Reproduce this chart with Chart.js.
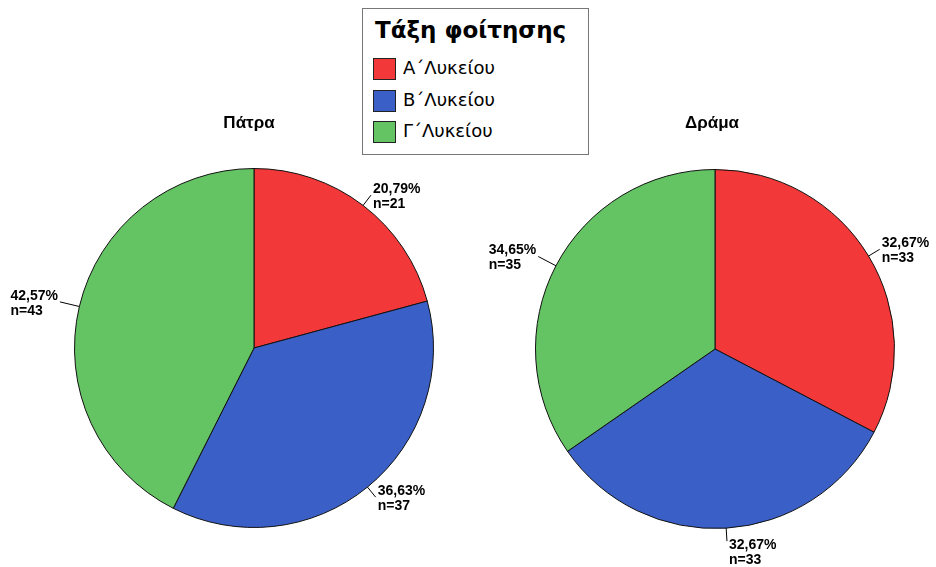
<!DOCTYPE html>
<html>
<head>
<meta charset="utf-8">
<script src="https://cdn.jsdelivr.net/npm/chart.js@4"></script>
<style>
  body { margin: 0; background: #fff; }
  #wrap { position: relative; width: 936px; height: 567px; overflow: hidden; font-family: "DejaVu Sans", sans-serif; }
  .box { position: absolute; top: 0; width: 468px; height: 567px; }
  .ttl { position: absolute; top: 113px; font: bold 17px "Liberation Sans", sans-serif; color: #000; transform: translateX(-50%); white-space: nowrap; }
  #legend { position: absolute; left: 362px; top: 8px; width: 225px; height: 145px; border: 1px solid #777; background: #fff; }
  #legend .lt { position: absolute; left: 12px; top: 8px; font: bold 23px "DejaVu Sans", sans-serif; white-space: nowrap; }
  #legend .it { position: absolute; left: 10px; height: 22px; font: 18px "DejaVu Sans", sans-serif; white-space: nowrap; }
  #legend .sw { display: inline-block; width: 21px; height: 20px; border: 1px solid #222; vertical-align: middle; margin-right: 7px; }
</style>
</head>
<body>
<div id="wrap">
  <div class="box" style="left:0"><canvas id="chartPatra"></canvas></div>
  <div class="box" style="left:468px"><canvas id="chartDrama"></canvas></div>
  <div class="ttl" style="left:249px">Πάτρα</div>
  <div class="ttl" style="left:712px">Δράμα</div>
  <div id="legend"></div>
</div>
<script>
const categories = ['Α΄Λυκείου', 'Β΄Λυκείου', 'Γ΄Λυκείου'];
const patraCounts = [21, 37, 43];
const dramaCounts = [33, 33, 35];
const colors = ['#f23838', '#3a60c8', '#64c464'];
const legendTitle = 'Τάξη φοίτησης';

// legend
let leg = document.getElementById('legend');
leg.innerHTML = `<div class="lt">${legendTitle}</div>` + categories.map((c, i) =>
  `<div class="it" style="top:${48 + i * 31.5}px"><span class="sw" style="background:${colors[i]}"></span>${c}</div>`
).join('');

// etiquetas fora da pizza com linha
const outLabels = {
  id: 'outLabels',
  afterDatasetsDraw(chart) {
    const ctx = chart.ctx;
    const meta = chart.getDatasetMeta(0);
    const vals = chart.data.datasets[0].data;
    const total = vals.reduce((a, b) => a + b, 0);
    ctx.save();
    ctx.font = 'bold 14px "Liberation Sans", sans-serif';
    ctx.fillStyle = '#000';
    ctx.strokeStyle = '#000';
    ctx.lineWidth = 1;
    meta.data.forEach((arc, i) => {
      const mid = (arc.startAngle + arc.endAngle) / 2;
      const dx = Math.cos(mid), dy = Math.sin(mid);
      const ex = arc.x + arc.outerRadius * dx, ey = arc.y + arc.outerRadius * dy;
      const L = dx < 0 ? 20 : 13;
      const ax = ex + L * dx, ay = ey + L * dy;
      ctx.beginPath();
      ctx.moveTo(ex, ey);
      ctx.lineTo(ax, ay);
      ctx.stroke();
      const pct = (vals[i] / total * 100).toFixed(2).replace('.', ',') + '%';
      const nTxt = 'n=' + vals[i];
      const w = Math.max(ctx.measureText(pct).width, ctx.measureText(nTxt).width);
      ctx.textAlign = 'left';
      ctx.textBaseline = 'alphabetic';
      const tx = dx >= 0 ? ax + 2 : ax - 2 - w;
      const base = ay - 2 + Math.max(0, dy - 0.8) * 50;
      ctx.fillText(pct, tx, base);
      ctx.fillText(nTxt, tx, base + 15);
    });
    ctx.restore();
  }
};

function makePie(id, counts, pad) {
  new Chart(document.getElementById(id), {
    type: 'pie',
    data: {
      labels: categories,
      datasets: [{
        data: counts,
        backgroundColor: colors,
        borderColor: '#111',
        borderWidth: 1
      }]
    },
    options: {
      responsive: true,
      maintainAspectRatio: false,
      animation: false,
      layout: { padding: pad },
      plugins: {
        legend: { display: false },
        tooltip: { enabled: false }
      }
    },
    plugins: [outLabels]
  });
}

makePie('chartPatra', patraCounts, { left: 74, right: 34, top: 168, bottom: 39 });
makePie('chartDrama', dramaCounts, { left: 67, right: 41, top: 169, bottom: 38 });
</script>
</body>
</html>
